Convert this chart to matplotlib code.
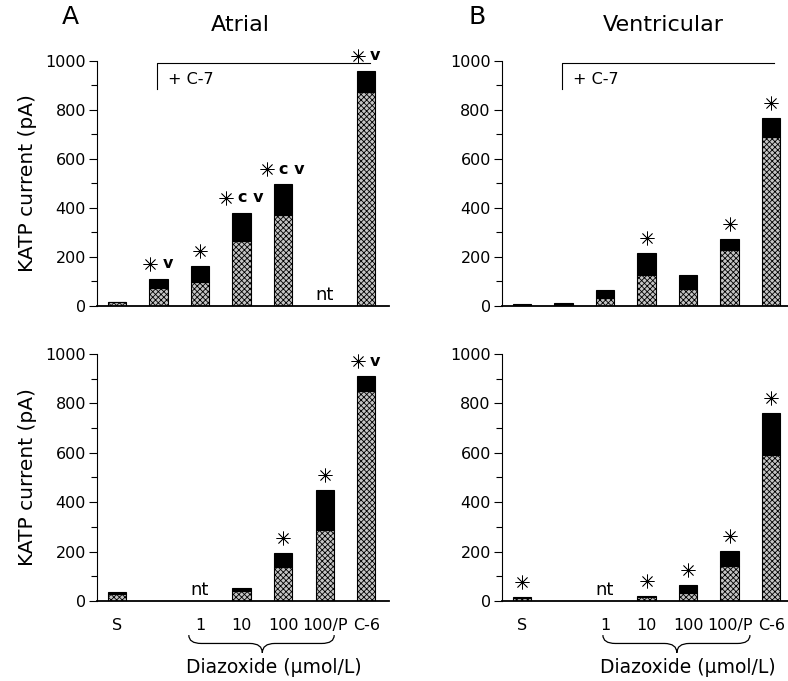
import numpy as np
import matplotlib.pyplot as plt
import matplotlib.transforms as mtransforms
from matplotlib.path import Path
from matplotlib.patches import PathPatch

plt.rcParams['font.family'] = ['DejaVu Sans']
plt.rcParams['hatch.linewidth'] = 0.6

pos = np.arange(7)
xlabels = ['S', '', '1', '10', '100', '100/P', 'C-6']

# top row: control, then cells pretreated with C-7
atr_top_tot = [18, 112, 165, 380, 497, np.nan, 960]
atr_top_pat = [18, 72, 96, 265, 370, np.nan, 872]
atr_top_star = [0, 1, 1, 1, 1, 0, 1]
atr_top_note = ['', 'v', '', 'c v', 'c v', 'nt', 'v']

ven_top_tot = [8, 12, 64, 216, 125, 274, 768]
ven_top_pat = [0, 0, 31, 126, 68, 228, 690]
ven_top_star = [0, 0, 0, 1, 0, 1, 1]
ven_top_note = ['', '', '', '', '', '', '']

# bottom row: S, diazoxide doses, C-6
atr_bot_tot = [35, np.nan, np.nan, 51, 193, 448, 910]
atr_bot_pat = [29, np.nan, np.nan, 40, 139, 288, 850]
atr_bot_star = [0, 0, 0, 0, 1, 1, 1]
atr_bot_note = ['', '', 'nt', '', '', '', 'v']

ven_bot_tot = [16, np.nan, np.nan, 19, 64, 204, 760]
ven_bot_pat = [14, np.nan, np.nan, 17, 34, 142, 590]
ven_bot_star = [1, 0, 0, 1, 1, 1, 1]
ven_bot_note = ['', '', 'nt', '', '', '', '']

fig = plt.figure(figsize=(7.88, 6.81), dpi=100)


def offs(ax, dx, dy):
    return mtransforms.offset_copy(ax.transData, fig=fig, x=dx, y=dy, units='dots')


def panel(ax, tot, pat, star, note):
    tot = np.array(tot, float)
    pat = np.array(pat, float)
    ok = ~np.isnan(tot)
    ax.bar(pos[ok], pat[ok], width=0.44, color='#c4c4c4', hatch='xxxxxx',
           edgecolor='black', lw=0.8)
    ax.bar(pos[ok], (tot - pat)[ok], bottom=pat[ok], width=0.44,
           color='black', edgecolor='black', lw=0.8)
    for i in pos:
        n = note[i]
        if n == 'nt':
            ax.text(i, 0, 'nt', ha='center', va='bottom', fontsize=13,
                    transform=offs(ax, 0, 2))
            continue
        if not star[i]:
            continue
        dx = {'': 0, 'v': -8, 'c v': -16}[n]
        ax.plot([i], [tot[i]], marker=(8, 2, 0), ms=10, mew=0.55, color='black',
                transform=offs(ax, dx, 15), clip_on=False)
        if n:
            ax.text(i, tot[i], n, ha='left', va='center', fontsize=11.5,
                    fontweight='bold', transform=offs(ax, dx + 12, 15))

    ax.set_xlim(-0.48, 6.55)
    ax.set_ylim(0, 1000)
    ax.set_yticks(range(0, 1001, 200))
    ax.set_yticks(range(100, 1000, 200), minor=True)
    ax.tick_params(axis='y', which='major', length=6, width=0.8, pad=2, labelsize=11.5)
    ax.tick_params(axis='y', which='minor', length=4, width=0.8)
    ax.tick_params(axis='x', length=0, pad=12, labelsize=11.5)
    ax.spines['top'].set_visible(False)
    ax.spines['right'].set_visible(False)
    ax.spines['left'].set_linewidth(0.8)
    ax.spines['bottom'].set_linewidth(1.3)


def c7_bracket(ax, x0, x1):
    ax.plot([x0, x0, x1], [886, 992, 992], color='black', lw=0.8, clip_on=False)
    ax.text(x0 + 0.25, 925, '+ C-7', ha='left', va='center', fontsize=11.5)


def brace(ax, x0, x1, xm, xlab):
    tr = mtransforms.blended_transform_factory(ax.transData, ax.transAxes)
    yt, ym, yb = -0.138, -0.172, -0.21
    r = 0.3
    verts = [(x0, yt), (x0, ym), (x0 + r, ym), (xm - r, ym), (xm, ym), (xm, yb),
             (xm, yb), (xm, ym), (xm + r, ym), (x1 - r, ym), (x1, ym), (x1, yt)]
    codes = [Path.MOVETO, Path.CURVE3, Path.CURVE3, Path.LINETO, Path.CURVE3, Path.CURVE3,
             Path.MOVETO, Path.CURVE3, Path.CURVE3, Path.LINETO, Path.CURVE3, Path.CURVE3]
    ax.add_patch(PathPatch(Path(verts, codes), fc='none', ec='black', lw=0.9,
                           transform=tr, clip_on=False))
    ax.text(xlab, -0.27, 'Diazoxide (\u00b5mol/L)', ha='center', va='center',
            fontsize=13.5, transform=tr)


axA1 = fig.add_axes([0.1231, 0.5507, 0.3706, 0.3598])
axB1 = fig.add_axes([0.637, 0.5507, 0.3706, 0.3598])
axA2 = fig.add_axes([0.1231, 0.1175, 0.3706, 0.3627])
axB2 = fig.add_axes([0.637, 0.1175, 0.3706, 0.3627])

panel(axA1, atr_top_tot, atr_top_pat, atr_top_star, atr_top_note)
panel(axB1, ven_top_tot, ven_top_pat, ven_top_star, ven_top_note)
panel(axA2, atr_bot_tot, atr_bot_pat, atr_bot_star, atr_bot_note)
panel(axB2, ven_bot_tot, ven_bot_pat, ven_bot_star, ven_bot_note)

for ax in (axA1, axB1):
    ax.set_xticks([])
    c7_bracket(ax, 0.97, 6.08)
for ax in (axA2, axB2):
    ax.set_xticks(pos)
    ax.set_xticklabels(xlabels)
brace(axA2, 1.73, 5.23, 3.5, 3.78)
brace(axB2, 1.95, 5.49, 3.73, 4.0)

for ax in (axA1, axA2):
    ax.set_ylabel('KATP current (pA)', fontsize=14.5)
    ax.yaxis.set_label_coords(-0.205, 0.5)

fig.text(70 / 788, 1 - 17 / 681, 'A', fontsize=18, ha='center', va='center')
fig.text(477 / 788, 1 - 17 / 681, 'B', fontsize=18, ha='center', va='center')
fig.text(240 / 788, 1 - 25 / 681, 'Atrial', fontsize=16, ha='center', va='center')
fig.text(663 / 788, 1 - 25 / 681, 'Ventricular', fontsize=16, ha='center', va='center')

fig.savefig('out.png', dpi=100)
